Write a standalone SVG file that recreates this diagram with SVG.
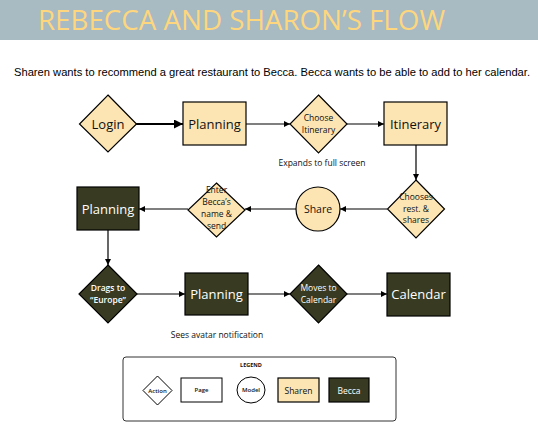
<svg xmlns="http://www.w3.org/2000/svg" width="538" height="437" viewBox="0 0 538 437">
<defs>
<marker id="ah" viewBox="0 0 10 10" refX="10" refY="5" markerWidth="6" markerHeight="6" markerUnits="userSpaceOnUse" orient="auto"><path d="M0,0 L10,5 L0,10 z" fill="#000"/></marker>
<marker id="ahb" viewBox="0 0 10 10" refX="10" refY="5" markerWidth="9" markerHeight="9" markerUnits="userSpaceOnUse" orient="auto"><path d="M0,0 L10,5 L0,10 z" fill="#000"/></marker>
</defs>
<style>
.s{fill:#fde5b3;stroke:#000;stroke-width:1.2}
.b{fill:#383b21;stroke:#000;stroke-width:1.2}
.w{fill:#fff;stroke:#000;stroke-width:1}
.t{font-family:"Open Sans","DejaVu Sans",sans-serif;text-anchor:middle;fill:#111}
.tw{font-family:"Open Sans","DejaVu Sans",sans-serif;text-anchor:middle;fill:#fff}
.c{stroke:#000;stroke-width:1.2;fill:none;marker-end:url(#ah)}
</style>
<rect x="0" y="0" width="538" height="40" fill="#a8bac2"/>
<text x="38" y="30" font-family="'Open Sans',sans-serif" font-size="28" fill="#fdd67e" textLength="407" lengthAdjust="spacingAndGlyphs">REBECCA AND SHARON’S FLOW</text>
<text x="14" y="76" font-family="'Liberation Sans',Arial,sans-serif" font-size="11" fill="#000" textLength="516" lengthAdjust="spacingAndGlyphs">Sharen wants to recommend a great restaurant to Becca. Becca wants to be able to add to her calendar.</text>

<g id="connectors">
<line x1="136" y1="124" x2="183" y2="124" stroke="#000" stroke-width="2" marker-end="url(#ahb)"/>
<line class="c" x1="246" y1="124" x2="290" y2="124"/>
<line class="c" x1="347" y1="124" x2="384" y2="124"/>
<line class="c" x1="416" y1="145" x2="416" y2="180"/>
<line class="c" x1="387" y1="209" x2="340" y2="209"/>
<line class="c" x1="296" y1="209" x2="245" y2="209"/>
<line class="c" x1="188" y1="209" x2="139" y2="209"/>
<line class="c" x1="108" y1="230" x2="108" y2="265"/>
<line class="c" x1="137" y1="294" x2="185" y2="294"/>
<line class="c" x1="248" y1="294" x2="290" y2="294"/>
<line class="c" x1="347" y1="294" x2="387" y2="294"/>
</g>

<g id="login"><polygon class="s" points="108,95 136.5,124 108,152 79.5,124"/><text class="t" x="108" y="128.5" font-size="13">Login</text></g>
<g id="planning1"><rect class="s" x="183" y="102" width="63" height="43"/><text class="t" x="214.5" y="128.5" font-size="13">Planning</text></g>
<g id="choose"><polygon class="s" points="318.5,95 347,124 318.5,153 290,124"/><text class="t" x="318.5" y="121" font-size="8.5">Choose</text><text class="t" x="318.5" y="133" font-size="8.5">Itinerary</text></g>
<text class="t" x="322" y="166" font-size="8.5">Expands to full screen</text>
<g id="itinerary"><rect class="s" x="384" y="102" width="63" height="43"/><text class="t" x="415.5" y="128.5" font-size="13">Itinerary</text></g>
<g id="chooses"><polygon class="s" points="416,180 444.5,209 416,238 387.5,209"/><text class="t" x="416" y="200" font-size="8.5">Chooses</text><text class="t" x="416" y="212" font-size="8.5">rest. &amp;</text><text class="t" x="416" y="223" font-size="8.5">shares</text></g>
<g id="share"><circle class="s" cx="318" cy="209" r="22"/><text class="t" x="318" y="213" font-size="10.5">Share</text></g>
<g id="enter"><polygon class="s" points="216.5,183 245,210 216.5,237 188,210"/><text class="t" x="216.5" y="193" font-size="8.5">Enter</text><text class="t" x="216.5" y="205" font-size="8.5">Becca’s</text><text class="t" x="216.5" y="217" font-size="8.5">name &amp;</text><text class="t" x="216.5" y="229" font-size="8.5">send</text></g>
<g id="planning2"><rect class="b" x="77" y="187" width="62" height="43"/><text class="tw" x="108" y="213.5" font-size="13">Planning</text></g>
<g id="drags"><polygon class="b" points="108,265 137,294 108,323 79,294"/><text class="tw" x="108" y="291" font-size="8.5" font-weight="600">Drags to</text><text class="tw" x="108" y="303" font-size="8.5" font-weight="600">“Europe”</text></g>
<g id="planning3"><rect class="b" x="185" y="273" width="63" height="42"/><text class="tw" x="216.5" y="298.5" font-size="13">Planning</text></g>
<text class="t" x="217" y="338" font-size="8.5">Sees avatar notification</text>
<g id="moves"><polygon class="b" points="318.5,265 347,294 318.5,323 290,294"/><text class="tw" x="318.5" y="291" font-size="8.5">Moves to</text><text class="tw" x="318.5" y="303" font-size="8.5">Calendar</text></g>
<g id="calendar"><rect class="b" x="387" y="273" width="63" height="43"/><text class="tw" x="418.5" y="299" font-size="13">Calendar</text></g>

<g id="legend">
<rect x="123" y="357" width="273" height="64" rx="3" fill="#fff" stroke="#333" stroke-width="1"/>
<text class="t" x="251" y="367" font-size="5.5" font-weight="700" fill="#000">LEGEND</text>
<polygon class="w" points="157.5,376 172,390.5 157.5,405 143,390.5"/><text class="t" x="157.5" y="392.5" font-size="6" font-weight="600">Action</text>
<rect class="w" x="181" y="378" width="41" height="24"/><text class="t" x="201.5" y="392" font-size="6" font-weight="600">Page</text>
<ellipse class="w" cx="251" cy="390" rx="14" ry="13"/><text class="t" x="251" y="392" font-size="6" font-weight="600">Model</text>
<rect class="s" x="278" y="378" width="41" height="24" stroke-width="1"/><text class="t" x="298.5" y="394" font-size="8.5">Sharen</text>
<rect class="b" x="329" y="378" width="40" height="24" stroke-width="1"/><text class="tw" x="349" y="394" font-size="8.5">Becca</text>
</g>
</svg>
